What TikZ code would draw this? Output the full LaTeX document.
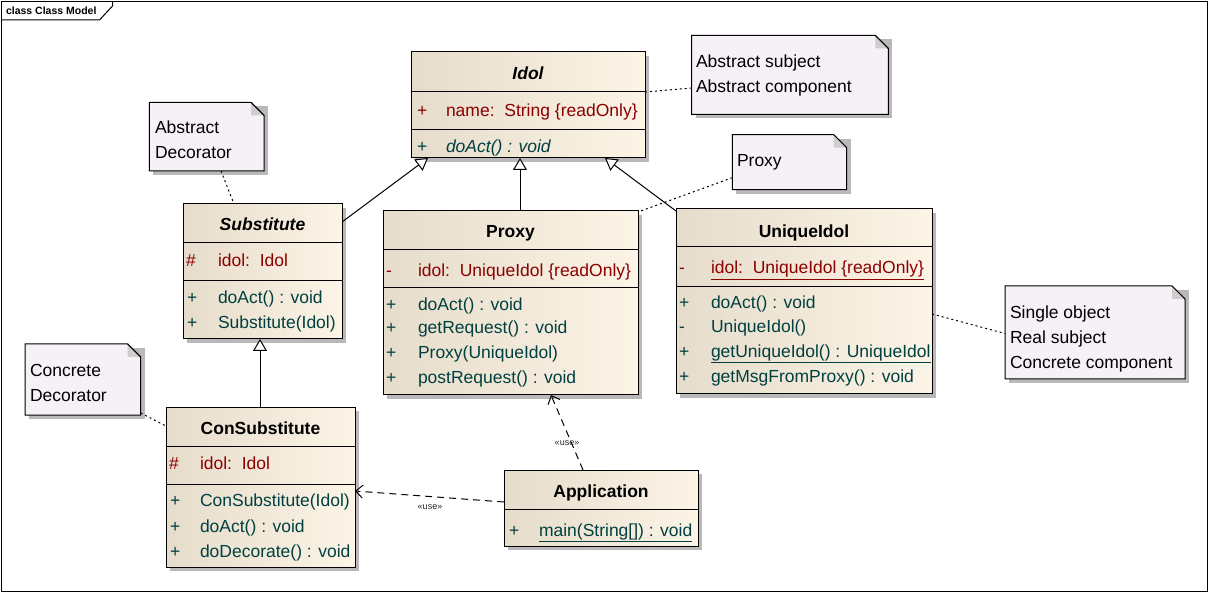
\documentclass[tikz,border=0pt]{standalone}
\usepackage{fontspec}
\setmainfont{Liberation Sans}
\usetikzlibrary{arrows.meta,shadows,calc}
\definecolor{clsL}{RGB}{230,220,203}
\definecolor{clsR}{RGB}{252,244,230}
\definecolor{noteC}{RGB}{246,241,246}
\definecolor{foldC}{RGB}{208,204,208}
\definecolor{shd}{RGB}{185,185,185}
\definecolor{attrC}{RGB}{140,0,0}
\definecolor{opC}{RGB}{0,64,64}
\newcommand\mf{\fontsize{17.5}{25}\selectfont}
\newcommand\drawnote[1]{%
  \fill[shd] ([xshift=4pt,yshift=-4pt]#1.south west) rectangle ([xshift=4pt,yshift=-4pt]#1.north east);
  \filldraw[notebox] (#1.north west) -- ([xshift=-13pt]#1.north east) -- ([yshift=-13pt]#1.north east) -- (#1.south east) -- (#1.south west) -- cycle;
  \fill[foldC] ([xshift=-13pt]#1.north east) -- ([xshift=-13pt,yshift=-13pt]#1.north east) -- ([yshift=-13pt]#1.north east) -- cycle;
  \draw[line width=1pt] ([xshift=-13pt]#1.north east) -- ([yshift=-13pt]#1.north east);
}
\begin{document}
\begin{tikzpicture}[x=1pt,y=-1pt,
  every node/.style={inner sep=0pt, outer sep=0pt},
  classbox/.style={rectangle, draw=black, line width=1pt, left color=clsL, right color=clsR,
    drop shadow={shadow xshift=4pt, shadow yshift=-4pt, fill=shd, opacity=1}},
  notearea/.style={rectangle},
  notebox/.style={fill=noteC, draw=black, line width=1pt},
  sepline/.style={line width=1pt},
  title/.style={anchor=base, font=\mf\bfseries},
  vis/.style={anchor=base west, font=\mf},
  memb/.style={anchor=base west, font=\mf},
  notetxt/.style={anchor=base west, font=\mf},
  gen/.style={line width=1pt, -{Triangle[fill=white, length=12pt, width=14pt, line width=1pt]}},
  dep/.style={line width=1pt, dash pattern=on 7pt off 5pt, -{Straight Barb[length=7pt, width=13pt, line width=1pt]}},
  notelink/.style={line width=1pt, dash pattern=on 2pt off 3pt},
  uselbl/.style={font=\fontsize{9}{10}\selectfont, text=black!85}
]
\useasboundingbox (0,0) rectangle (1210,593);
% frame
\draw[line width=1pt] (1.5,1.5) rectangle (1207.5,591.5);
\draw[line width=1pt] (1.5,20) -- (99.5,20) -- (112.5,6) -- (112.5,1.5);
\node[anchor=base west, font=\fontsize{10.5}{12}\selectfont\bfseries] (frametitle) at (6,15) {class Class Model};

% notes (areas)
\node[notearea, minimum width=196.6pt, minimum height=79pt] (nA) at (790,75) {};
\node[notearea, minimum width=114.4pt, minimum height=55pt] (nP) at (789.5,162.2) {};
\node[notearea, minimum width=114.7pt, minimum height=68.7pt] (nD) at (206.65,136.65) {};
\node[notearea, minimum width=115.7pt, minimum height=71pt] (nC) at (82.85,379.5) {};
\node[notearea, minimum width=180pt, minimum height=93pt] (nS) at (1095,332.5) {};
\drawnote{nA}\drawnote{nP}\drawnote{nD}\drawnote{nC}\drawnote{nS}
\node[notetxt] (nA1) at (696,67.5) {Abstract subject};
\node[notetxt] (nA2) at (696,93) {Abstract component};
\node[notetxt] (nP1) at (737,167) {Proxy};
\node[notetxt] (nD1) at (155,134) {Abstract};
\node[notetxt] (nD2) at (155,159) {Decorator};
\node[notetxt] (nC1) at (30,377) {Concrete};
\node[notetxt] (nC2) at (30,402) {Decorator};
\node[notetxt] (nS1) at (1010,319) {Single object};
\node[notetxt] (nS2) at (1010,344) {Real subject};
\node[notetxt] (nS3) at (1010,369) {Concrete component};

% class boxes
\node[classbox, minimum width=234pt, minimum height=106pt] (idol) at (528,105) {};
\node[classbox, minimum width=159pt, minimum height=135pt] (subst) at (262.5,271.5) {};
\node[classbox, minimum width=255pt, minimum height=184pt] (proxy) at (510.5,303) {};
\node[classbox, minimum width=256pt, minimum height=185pt] (unique) at (804,301.5) {};
\node[classbox, minimum width=189pt, minimum height=160pt] (consub) at (260.5,487) {};
\node[classbox, minimum width=194pt, minimum height=76pt] (app) at (601,508) {};

% separators
\draw[sepline] (idol.west |- 0,91.7) -- (idol.east |- 0,91.7);
\draw[sepline] (idol.west |- 0,129.3) -- (idol.east |- 0,129.3);
\draw[sepline] (subst.west |- 0,242.7) -- (subst.east |- 0,242.7);
\draw[sepline] (subst.west |- 0,280.7) -- (subst.east |- 0,280.7);
\draw[sepline] (proxy.west |- 0,249.3) -- (proxy.east |- 0,249.3);
\draw[sepline] (proxy.west |- 0,287.3) -- (proxy.east |- 0,287.3);
\draw[sepline] (unique.west |- 0,246.7) -- (unique.east |- 0,246.7);
\draw[sepline] (unique.west |- 0,286.7) -- (unique.east |- 0,286.7);
\draw[sepline] (consub.west |- 0,446.7) -- (consub.east |- 0,446.7);
\draw[sepline] (consub.west |- 0,484.3) -- (consub.east |- 0,484.3);
\draw[sepline] (app.west |- 0,509) -- (app.east |- 0,509);

% Idol
\node[title] (idolT) at (528,80) {\itshape Idol};
\node[vis, text=attrC] (idolV1) at (417,117) {+};
\node[memb, text=attrC] (idolA1) at (446,117) {name:\ \ String \{readOnly\}};
\node[vis, text=opC] (idolV2) at (417,152.5) {+};
\node[memb, text=opC] (idolO1) at (446,152.5) {\itshape doAct() : void};

% Substitute
\node[title] (substT) at (262.5,231) {\itshape Substitute};
\node[vis, text=attrC] (substV1) at (186,267) {\#};
\node[memb, text=attrC] (substA1) at (218,267) {idol:\ \ Idol};
\node[vis, text=opC] (substV2) at (187,304) {+};
\node[memb, text=opC] (substO1) at (218,304) {doAct() : void};
\node[vis, text=opC] (substV3) at (187,329) {+};
\node[memb, text=opC] (substO2) at (218,329) {Substitute(Idol)};

% Proxy
\node[title] (proxyT) at (510.5,238) {Proxy};
\node[vis, text=attrC] (proxyV1) at (386,277) {-};
\node[memb, text=attrC] (proxyA1) at (418,277) {idol:\ \ UniqueIdol \{readOnly\}};
\node[vis, text=opC] (proxyV2) at (386,311) {+};
\node[memb, text=opC] (proxyO1) at (418,311) {doAct() : void};
\node[vis, text=opC] (proxyV3) at (386,334) {+};
\node[memb, text=opC] (proxyO2) at (418,334) {getRequest() : void};
\node[vis, text=opC] (proxyV4) at (386,359) {+};
\node[memb, text=opC] (proxyO3) at (418,359) {Proxy(UniqueIdol)};
\node[vis, text=opC] (proxyV5) at (386,384) {+};
\node[memb, text=opC] (proxyO4) at (418,384) {postRequest() : void};

% UniqueIdol
\node[title] (uniqueT) at (804,237.5) {UniqueIdol};
\node[vis, text=attrC] (uniqueV1) at (679,274) {-};
\node[memb, text=attrC] (uniqueA1) at (711,274) {\underline{idol:\ \ UniqueIdol \{readOnly\}}};
\node[vis, text=opC] (uniqueV2) at (679,309) {+};
\node[memb, text=opC] (uniqueO1) at (711,309) {doAct() : void};
\node[vis, text=opC] (uniqueV3) at (679,332.5) {-};
\node[memb, text=opC] (uniqueO2) at (711,332.5) {UniqueIdol()};
\node[vis, text=opC] (uniqueV4) at (679,357.5) {+};
\node[memb, text=opC] (uniqueO3) at (711,357.5) {\underline{getUniqueIdol() : UniqueIdol}};
\node[vis, text=opC] (uniqueV5) at (679,382.5) {+};
\node[memb, text=opC] (uniqueO4) at (711,382.5) {getMsgFromProxy() : void};

% ConSubstitute
\node[title] (consubT) at (260.5,435) {ConSubstitute};
\node[vis, text=attrC] (consubV1) at (169,469) {\#};
\node[memb, text=attrC] (consubA1) at (200,469) {idol:\ \ Idol};
\node[vis, text=opC] (consubV2) at (170,506) {+};
\node[memb, text=opC] (consubO1) at (200,506) {ConSubstitute(Idol)};
\node[vis, text=opC] (consubV3) at (170,532) {+};
\node[memb, text=opC] (consubO2) at (200,532) {doAct() : void};
\node[vis, text=opC] (consubV4) at (170,557.5) {+};
\node[memb, text=opC] (consubO3) at (200,557.5) {doDecorate() : void};

% Application
\node[title] (appT) at (601,497.5) {Application};
\node[vis, text=opC] (appV1) at (509,536) {+};
\node[memb, text=opC] (appO1) at (539,536) {\underline{main(String[]) : void}};

% generalizations
\draw[gen] ([yshift=-18pt]subst.north east) -- ([xshift=17pt]idol.south west);
\draw[gen] ([xshift=9.5pt]proxy.north) -- ([xshift=9.5pt]proxy.north |- idol.south);
\draw[gen] ([yshift=-2pt]unique.north west) -- ([xshift=-40pt]idol.south east);
\draw[gen] ([xshift=-0.5pt]consub.north) -- ([xshift=-0.5pt]consub.north |- subst.south);

% dependencies
\draw[dep] ([xshift=-18pt]app.north) -- ([xshift=40.5pt]proxy.south);
\node[uselbl] (use1) at (567,443) {«use»};
\draw[dep] ([yshift=6pt]app.west) -- ([yshift=-4pt]consub.east);
\node[uselbl] (use2) at (430,507) {«use»};

% note links
\draw[notelink] ([yshift=-13pt]nA.west) -- ([yshift=13pt]idol.east);
\draw[notelink] ([yshift=12pt]nP.south west) -- ([yshift=-1pt]proxy.north east);
\draw[notelink] ([xshift=14.4pt]nD.south) -- ([xshift=-28.5pt]subst.north);
\draw[notelink] ([yshift=2pt]nC.south east) -- ([yshift=-19pt]consub.north west);
\draw[notelink] ([yshift=-12.5pt]unique.east) -- ([yshift=-1pt]nS.west);
\end{tikzpicture}
\end{document}
